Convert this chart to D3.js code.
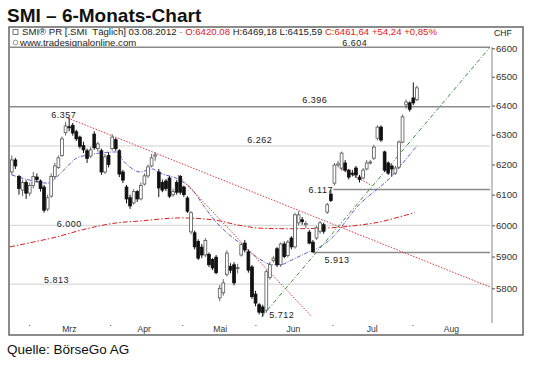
<!DOCTYPE html>
<html><head><meta charset="utf-8">
<script src="https://cdn.jsdelivr.net/npm/d3@7/dist/d3.min.js"></script>
<style>body{margin:0;background:#fff}svg{display:block}</style>
</head><body><svg id="c" width="540" height="366"></svg>
<script>
// ---- data (trading-day index 0 = first candle, last = 03.08.2012) ----
const opens=[6175,6215,6160,6115,6140,6105,6130,6158,6145,6125, 6053,6095,6160,6190,6230,6307,6327,6332,6310,6292, 6263,6246,6228,6302,6253,6246,6175,6230,6253,6283, 6246,6175,6125,6090,6073,6110,6086,6135,6162,6195, 6228,6175,6140,6145,6155,6100,6140,6160,6125,6089, 5979,5976,5948,5930,5905,5907,5891,5898,5770,5786, 5844,5869,5874,5863,5905,5943,5915,5867,5782,5749, 5742,5732,5834,5887,5925,5874,5940,5903,5959,5931, 6008,6018,6002,5978,5946,5959,5981,6002,6043,6102, 6138,6198,6188,6205,6181,6171,6188,6158,6155,6185, 6205,6221,6288,6326,6242,6205,6195,6171,6191,6275, 6402,6409,6426,6420];
const highs=[6230,6222,6165,6150,6148,6140,6175,6170,6150,6132, 6100,6170,6205,6230,6294,6344,6357,6340,6317,6297, 6276,6253,6259,6312,6276,6253,6235,6241,6302,6289, 6251,6182,6132,6100,6118,6115,6140,6170,6200,6235, 6241,6185,6150,6152,6162,6120,6148,6165,6130,6095, 6046,5983,5955,5940,5959,5913,5895,5905,5811,5829, 5920,5879,5882,5877,5945,5953,5921,5873,5792,5754, 5749,5859,5883,5901,5930,5945,5948,5953,5965,6041, 6046,6027,6014,5985,5953,5998,6014,6008,6073,6117, 6205,6212,6243,6215,6185,6182,6195,6165,6188,6215, 6215,6266,6332,6332,6246,6210,6200,6195,6281,6369, 6421,6414,6480,6469];
const lows=[6165,6185,6100,6095,6086,6095,6120,6140,6110,6041, 6046,6090,6150,6185,6225,6297,6312,6297,6279,6253, 6238,6205,6222,6249,6243,6165,6168,6190,6246,6246, 6158,6138,6071,6053,6067,6076,6081,6130,6155,6190, 6212,6092,6108,6112,6089,6093,6100,6100,6092,6040, 5971,5923,5889,5895,5898,5867,5857,5844,5760,5777, 5837,5847,5809,5847,5900,5913,5849,5767,5744,5719, 5712,5724,5827,5881,5867,5867,5895,5897,5923,5925, 6000,6002,5992,5939,5913,5953,5973,5973,6037,6076, 6130,6190,6180,6175,6150,6160,6155,6140,6150,6180, 6200,6215,6281,6276,6175,6165,6160,6165,6185,6271, 6389,6379,6401,6415];
const closes=[6215,6195,6120,6140,6105,6130,6160,6150,6120,6049, 6090,6160,6195,6222,6286,6330,6324,6306,6286,6261, 6249,6220,6249,6256,6269,6175,6225,6200,6292,6253, 6168,6148,6086,6063,6110,6086,6130,6162,6192,6222, 6232,6122,6115,6120,6095,6110,6108,6108,6100,6046, 6041,5931,5895,5905,5951,5874,5864,5849,5800,5817, 5911,5857,5817,5865,5938,5921,5857,5774,5754,5726, 5724,5852,5874,5895,5874,5940,5900,5946,5931,6034, 6034,6012,6006,5943,5915,5992,6008,5981,6067,6081, 6198,6202,6238,6181,6158,6170,6165,6150,6181,6205, 6208,6258,6326,6282,6181,6171,6185,6188,6275,6361, 6412,6387,6409,6461];

// blue moving average (index, value)
const blueIdx=[0,5,10,12.5,15.3,18,21,24.5,29.3,31,33,35.7,37.7,39.3,40.7,46.9,50.5,53.3,57.2,60,63.6,68.4,72.8,74.8,78.4,82.3,86,89.6,93.5,96.3,99,102.7,106.3,109.1,113];
const blueVal=[6165,6148,6138,6158,6191,6221,6231,6238,6242,6214,6191,6175,6181,6185,6175,6148,6115,6067,6008,5976,5943,5898,5874,5874,5891,5912,5931,5963,6018,6060,6090,6125,6165,6205,6262];
// red long moving average (index, value)
const maIdx=[-0.5,5.9,12.6,19.8,29.3,35.7,46.9,56.1,63.6,69.2,77.6,88.7,97.1,102.7,108.3,112.4];
const maVal=[5931,5946,5963,5986,6008,6014,6024,6018,6000,5991,5989,5992,6001,6011,6028,6041];

// trendlines [startIdx, startVal, endIdx, endVal]
const redTrends=[[15.6,6357,133.4,5804],[46.3,6165,83.7,5712],[91.5,6188,100.4,6130]];
const greenTrend=[69.75,5712,133.4,6604];

// horizontal levels
const levelVals=[6604,6396,6262,6117,6000,5913,5813];
const levelStartIdx=[-0.5,-0.5,-0.5,89.7,-0.5,83.9,-0.5];
const levelStrong=[true,true,false,true,false,true,false];
// value labels
const labelText=["6.604","6.396","6.262","6.357","6.117","6.000","5.913","5.813","5.712"];
const labelVal=[6604,6396,6262,6357,6117,6000,5913,5813,5712];
const labelIdx=[95.7,84.5,69.2,14.5,86.2,16,90.7,12.5,75.3];

// axes
const yTicks=[5800,5900,6000,6100,6200,6300,6400,6500,6600];
const monthLabels=["Mrz","Apr","Mai","Jun","Jul","Aug"];
const monthLabelIdx=[15.9,36.8,58,78.4,100.4,122.5];
const monthStartIdx=[5,27.6,47.7,68.1,89.6,111.9];

const headerParts=[["SMI\u00AE PR [.SMI  T\u00E4glich] 03.08.2012 ","#222"],["- ","#999"],["O:6420.08 ","#e02020"],["H:6469,18 L:6415,59 ","#222"],["C:6461,64 +54,24 +0,85%","#e02020"]];

// ---- drawing ----
const svg=d3.select("#c");
const FONT="'Liberation Sans', Arial, sans-serif";
const x=d3.scaleLinear().domain([-0.5,133.4]).range([10,490]);
const y=d3.scaleLog().domain([5800,6500]).range([288.3,76.7]);
const PT=46,PB=323,PL=10,PR=490;

svg.append("text").attr("x",7).attr("y",22).attr("font-family",FONT).attr("font-weight","bold")
  .attr("font-size",19).attr("fill","#111").text("SMI \u2013 6-Monats-Chart");
svg.append("text").attr("x",7).attr("y",354).attr("font-family",FONT)
  .attr("font-size",13.5).attr("fill","#111").text("Quelle: B\u00F6rseGo AG");

// frame
svg.append("rect").attr("x",9).attr("y",27).attr("width",514).attr("height",308)
  .attr("fill","none").attr("stroke","#666").attr("stroke-width",1.5);

// header
const ht=svg.append("text").attr("x",22).attr("y",35).attr("font-family",FONT).attr("font-size",9.6);
headerParts.forEach(p=>ht.append("tspan").attr("fill",p[1]).attr("xml:space","preserve").text(p[0]));
svg.append("rect").attr("x",13).attr("y",29.5).attr("width",5).attr("height",5).attr("fill","none").attr("stroke","#555").attr("stroke-width",0.8);
svg.append("circle").attr("cx",15.5).attr("cy",42.5).attr("r",2.3).attr("fill","none").attr("stroke","#777").attr("stroke-width",0.8);
svg.append("text").attr("x",20).attr("y",45.5).attr("font-family",FONT).attr("font-size",9.6).attr("fill","#222").text("www.tradesignalonline.com");
svg.append("text").attr("x",494).attr("y",36).attr("font-family",FONT).attr("font-size",8.6).attr("fill","#222").text("CHF");

// clip
svg.append("clipPath").attr("id","pc").append("rect").attr("x",PL).attr("y",PT).attr("width",PR-PL).attr("height",PB-PT);
const g=svg.append("g").attr("clip-path","url(#pc)");

// levels
levelVals.forEach((v,k)=>{
  g.append("line").attr("x1",x(levelStartIdx[k])).attr("x2",PR).attr("y1",y(v)).attr("y2",y(v))
   .attr("stroke",levelStrong[k]?"#8a8a8a":"#cfcfcf").attr("stroke-width",levelStrong[k]?1.5:1);
});

// lines
const line=d3.line().x(d=>x(d[0])).y(d=>y(d[1])).curve(d3.curveMonotoneX);
g.append("path").attr("d",line(maIdx.map((d,k)=>[d,maVal[k]]))).attr("fill","none")
  .attr("stroke","#d42020").attr("stroke-width",1).attr("stroke-dasharray","5,2,1.5,2");
g.append("path").attr("d",line(blueIdx.map((d,k)=>[d,blueVal[k]]))).attr("fill","none")
  .attr("stroke","#5a5ad8").attr("stroke-width",1).attr("stroke-dasharray","4,1.5,1,1.5");
redTrends.forEach(t=>{
  g.append("line").attr("x1",x(t[0])).attr("y1",y(t[1])).attr("x2",x(t[2])).attr("y2",y(t[3]))
   .attr("stroke","#e03a3a").attr("stroke-width",1).attr("stroke-dasharray","1.5,1.5");
});
g.append("line").attr("x1",x(greenTrend[0])).attr("y1",y(greenTrend[1])).attr("x2",x(greenTrend[2])).attr("y2",y(greenTrend[3]))
  .attr("stroke","#3d8a3d").attr("stroke-width",1).attr("stroke-dasharray","4,2,1,2");

// candles
const cw=2.8;
opens.forEach((o,i)=>{
  const c=closes[i], up=c>=o, cx=x(i);
  g.append("line").attr("x1",cx).attr("x2",cx).attr("y1",y(highs[i])).attr("y2",y(lows[i]))
   .attr("stroke",up?"#666":"#111").attr("stroke-width",1);
  const top=y(Math.max(o,c)), h=Math.max(1,Math.abs(y(o)-y(c)));
  g.append("rect").attr("x",cx-cw/2).attr("y",top).attr("width",cw).attr("height",h)
   .attr("fill",up?"#fff":"#111").attr("stroke",up?"#555":"#111").attr("stroke-width",0.8);
});

// value labels (offsets relative to their level)
const labelDy=[-1.2,-3.7,-3.3,0,3.5,1.5,10.5,-1.2,1.5];
labelText.forEach((t,k)=>{
  svg.append("text").attr("x",x(labelIdx[k])).attr("y",y(labelVal[k])+labelDy[k])
   .attr("text-anchor","middle").attr("font-family",FONT).attr("font-size",9)
   .attr("letter-spacing",0.5).attr("fill","#222").text(t);
});

// y axis
svg.append("line").attr("x1",492).attr("x2",492).attr("y1",PT+1).attr("y2",PB).attr("stroke","#888").attr("stroke-width",1);
const ya=svg.append("g").attr("transform","translate(492,0)")
  .call(d3.axisRight(y).tickValues(yTicks).tickSize(3).tickPadding(1).tickFormat(d=>d));
ya.select(".domain").remove();
ya.selectAll("line").attr("stroke","#555");
ya.selectAll("text").attr("font-family",FONT).attr("font-size",9.6).attr("fill","#333");

// x axis
const xa=svg.append("g").attr("transform",`translate(0,${PB})`)
  .call(d3.axisBottom(x).tickValues(monthLabelIdx).tickSize(0).tickPadding(3).tickFormat((d,k)=>monthLabels[k]));
xa.select(".domain").remove();
xa.selectAll("text").attr("font-family",FONT).attr("font-size",8.6).attr("fill","#333");
monthStartIdx.forEach(m=>{
  svg.append("rect").attr("x",x(m)-0.5).attr("y",PB+2).attr("width",1).attr("height",1).attr("fill","#555");
});
</script></body></html>
